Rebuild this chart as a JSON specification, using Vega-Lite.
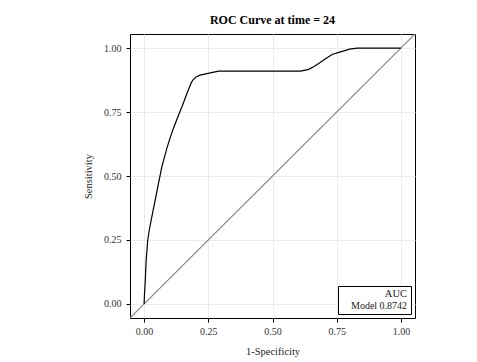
{
  "$schema": "https://vega.github.io/schema/vega-lite/v6.json",
  "autosize": "none",
  "padding": {"left": 130, "top": 34, "right": 62, "bottom": 44},
  "width": 285,
  "height": 284,
  "background": "white",
  "title": {"text": "ROC Curve at time = 24", "font": "Liberation Serif", "fontSize": 12, "fontWeight": "bold", "color": "black", "anchor": "middle", "offset": 7},
  "config": {
    "view": {"stroke": "black", "strokeWidth": 1},
    "axis": {"domain": false, "grid": true, "gridColor": "#ebebeb", "gridWidth": 1, "tickColor": "black", "tickSize": 4, "labelFont": "Liberation Serif", "labelFontSize": 10, "labelColor": "#333333", "titleFont": "Liberation Serif", "titleFontSize": 10.5, "titleFontWeight": "normal", "titleColor": "#222222"},
    "legend": {"orient": "bottom-right", "offset": 4, "strokeColor": "black", "fillColor": "white", "padding": 3, "titleAnchor": "end", "titleFont": "Liberation Serif", "titleFontSize": 10.5, "titleFontWeight": "normal", "titleColor": "#222222", "titlePadding": 1, "labelFont": "Liberation Serif", "labelFontSize": 10, "labelColor": "#222222", "symbolSize": 0, "symbolOpacity": 0, "symbolStrokeWidth": 0, "labelOffset": 0, "cornerRadius": 0}
  },
  "layer": [
    {
      "data": {"values": [{"fpr": -0.2, "tpr": -0.2}, {"fpr": 1.2, "tpr": 1.2}]},
      "mark": {"type": "line", "color": "#7f7f7f", "strokeWidth": 1.1, "clip": true},
      "encoding": {
        "x": {"field": "fpr", "type": "quantitative"},
        "y": {"field": "tpr", "type": "quantitative"}
      }
    },
    {
      "data": {"values": [
        {"fpr": 0, "tpr": 0},
        {"fpr": 0.001, "tpr": 0.03},
        {"fpr": 0.004, "tpr": 0.08},
        {"fpr": 0.008, "tpr": 0.171},
        {"fpr": 0.014, "tpr": 0.249},
        {"fpr": 0.020, "tpr": 0.288},
        {"fpr": 0.030, "tpr": 0.340},
        {"fpr": 0.043, "tpr": 0.406},
        {"fpr": 0.056, "tpr": 0.471},
        {"fpr": 0.069, "tpr": 0.536},
        {"fpr": 0.078, "tpr": 0.569},
        {"fpr": 0.089, "tpr": 0.610},
        {"fpr": 0.101, "tpr": 0.648},
        {"fpr": 0.114, "tpr": 0.686},
        {"fpr": 0.130, "tpr": 0.728},
        {"fpr": 0.147, "tpr": 0.770},
        {"fpr": 0.162, "tpr": 0.810},
        {"fpr": 0.177, "tpr": 0.849},
        {"fpr": 0.185, "tpr": 0.867},
        {"fpr": 0.192, "tpr": 0.878},
        {"fpr": 0.204, "tpr": 0.888},
        {"fpr": 0.218, "tpr": 0.894},
        {"fpr": 0.240, "tpr": 0.899},
        {"fpr": 0.258, "tpr": 0.903},
        {"fpr": 0.290, "tpr": 0.910},
        {"fpr": 0.450, "tpr": 0.910},
        {"fpr": 0.609, "tpr": 0.910},
        {"fpr": 0.628, "tpr": 0.914},
        {"fpr": 0.641, "tpr": 0.917},
        {"fpr": 0.660, "tpr": 0.927},
        {"fpr": 0.680, "tpr": 0.940},
        {"fpr": 0.705, "tpr": 0.957},
        {"fpr": 0.732, "tpr": 0.975},
        {"fpr": 0.755, "tpr": 0.982},
        {"fpr": 0.778, "tpr": 0.989},
        {"fpr": 0.800, "tpr": 0.996},
        {"fpr": 0.830, "tpr": 1.0},
        {"fpr": 1.0, "tpr": 1.0}
      ]},
      "mark": {"type": "line", "strokeWidth": 1.2, "clip": true},
      "encoding": {
        "x": {"field": "fpr", "type": "quantitative", "title": "1-Specificity", "scale": {"domain": [-0.055, 1.055], "nice": false, "zero": false}, "axis": {"values": [0, 0.25, 0.5, 0.75, 1], "format": ".2f", "labelPadding": 4, "titlePadding": 10}},
        "y": {"field": "tpr", "type": "quantitative", "title": "Sensitivity", "scale": {"domain": [-0.055, 1.055], "nice": false, "zero": false}, "axis": {"values": [0, 0.25, 0.5, 0.75, 1], "format": ".2f", "labelPadding": 5, "titlePadding": 10}},
        "color": {"datum": "Model 0.8742", "type": "nominal", "scale": {"range": ["black"]}, "legend": {"title": "AUC"}}
      }
    }
  ]
}
